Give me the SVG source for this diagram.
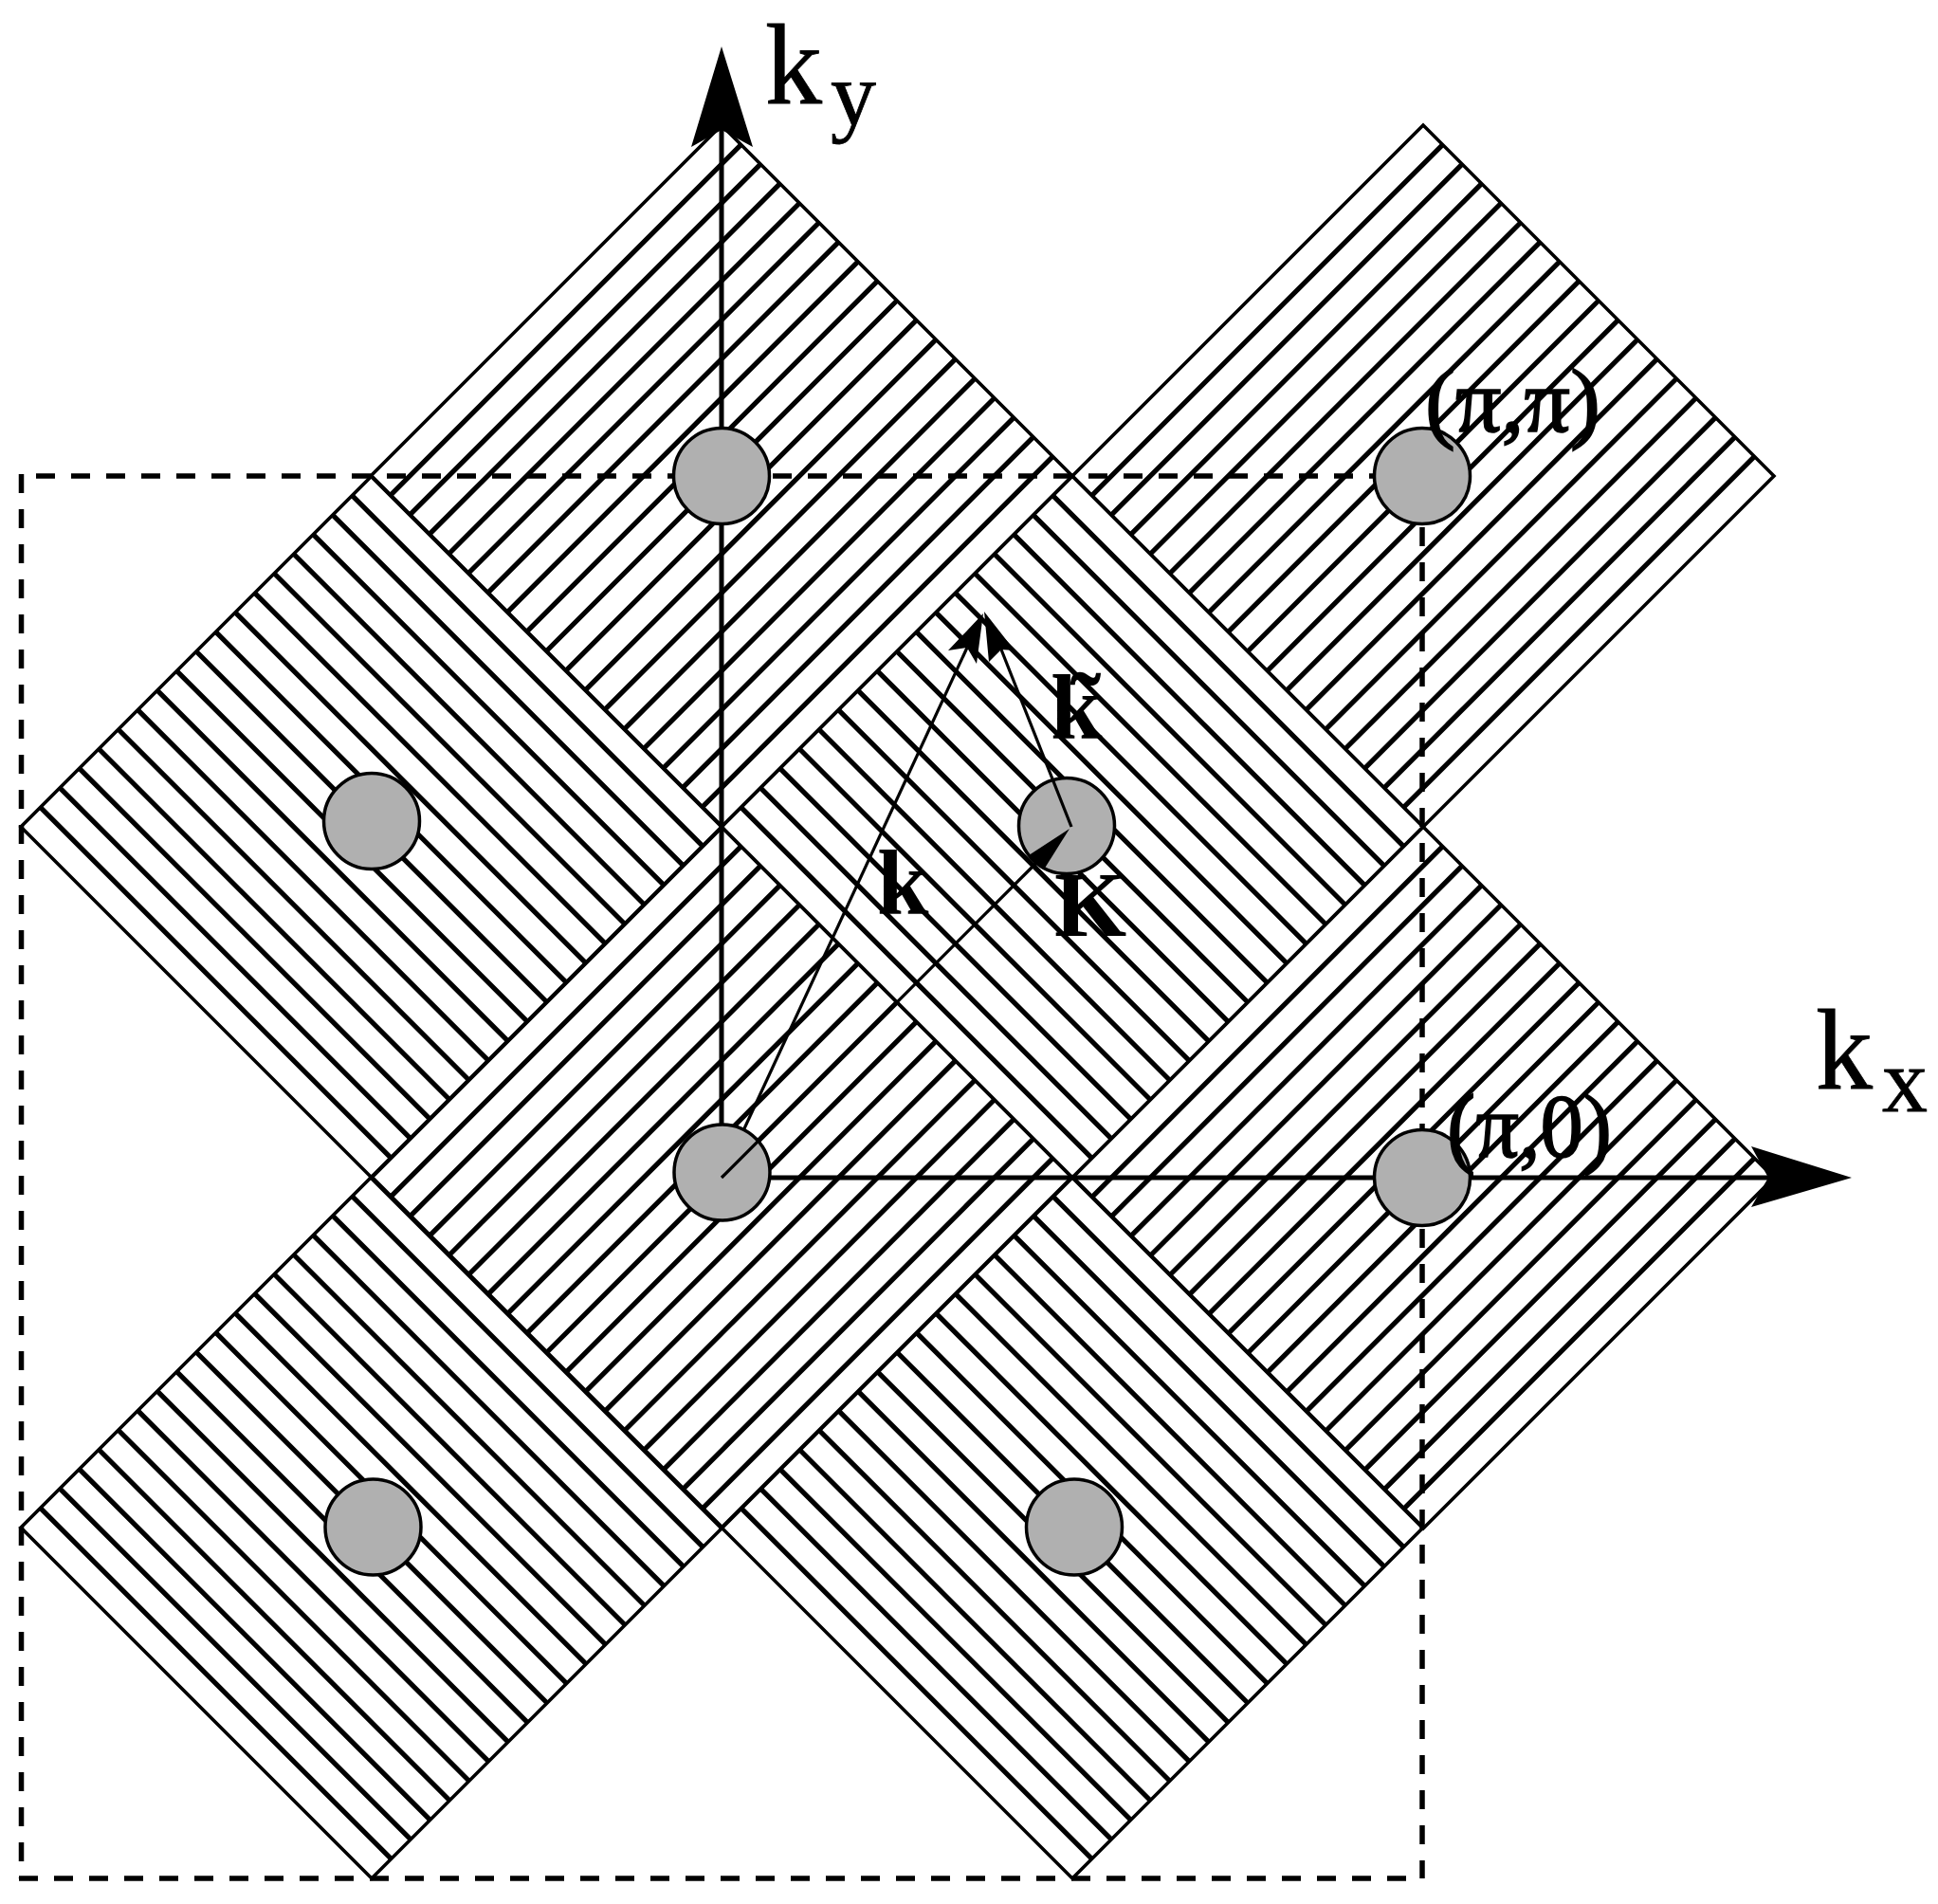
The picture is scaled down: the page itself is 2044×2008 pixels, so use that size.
<svg xmlns="http://www.w3.org/2000/svg" xmlns:xlink="http://www.w3.org/1999/xlink" width="2044" height="2008" viewBox="0 0 2044 2008">
<style>
.edge{fill:none;stroke:#000;stroke-width:3.6}
.hatch{fill:none;stroke:#000;stroke-width:5.2}
.dash{fill:none;stroke:#000;stroke-width:5.5;stroke-dasharray:20 17}
.dot{fill:#b0b0b0;stroke:#000;stroke-width:3.5}
.axis{fill:none;stroke:#000;stroke-width:5}
.vec{fill:none;stroke:#000;stroke-width:3.2}
.head{fill:#000;stroke:none}
text{font-family:"Liberation Serif","Times New Roman",serif;fill:#000}
.bold{font-weight:bold;font-size:98px}
.big{font-size:120px;stroke:#000;stroke-width:.8}
.sub{font-size:96px;stroke:#000;stroke-width:.8}
.pt{font-size:96px;stroke:#000;stroke-width:1.6}
</style>
<defs>
<g id="tile">
<path class="edge" d="M0 -370L370 0L0 370L-370 0Z"/>
<path class="hatch" d="M20.56 -349.44l-370 370M41.11 -328.89l-370 370M61.67 -308.33l-370 370M82.22 -287.78l-370 370M102.78 -267.22l-370 370M123.33 -246.67l-370 370M143.89 -226.11l-370 370M164.44 -205.56l-370 370M185 -185l-370 370M205.56 -164.44l-370 370M226.11 -143.89l-370 370M246.67 -123.33l-370 370M267.22 -102.78l-370 370M287.78 -82.22l-370 370M308.33 -61.67l-370 370M328.89 -41.11l-370 370M349.44 -20.56l-370 370"/>
</g>
</defs>
<rect width="2044" height="2008" fill="#fff"/>
<g id="tiles">
<use id="tile-top" xlink:href="#tile" transform="translate(761 502)"/>
<use id="tile-top-right" xlink:href="#tile" transform="translate(1501 502)"/>
<use id="tile-left" xlink:href="#tile" transform="translate(392 872) rotate(90)"/>
<use id="tile-centre" xlink:href="#tile" transform="translate(1131 872) rotate(90)"/>
<use id="tile-lower" xlink:href="#tile" transform="translate(761 1242)"/>
<use id="tile-right" xlink:href="#tile" transform="translate(1501 1242)"/>
<use id="tile-bottom-left" xlink:href="#tile" transform="translate(392 1611) rotate(90)"/>
<use id="tile-bottom-right" xlink:href="#tile" transform="translate(1131 1611) rotate(90)"/>
</g>
<g id="zone-boundary">
<line class="dash" x1="38" y1="502" x2="1500" y2="502"/>
<line class="dash" x1="22.5" y1="500" x2="22.5" y2="1981"/>
<line class="dash" x1="20" y1="1981" x2="1500" y2="1981"/>
<line class="dash" x1="1500" y1="519" x2="1500" y2="1981"/>
</g>
<g id="connectors-under">
<line class="axis" x1="761" y1="1242" x2="761" y2="130"/>
<path class="head" d="M761 49L794 155L761 137L729 155Z"/>
<line class="axis" x1="761" y1="1242" x2="1870" y2="1242"/>
<path class="head" d="M1953 1242L1847 1273L1865 1242L1847 1209Z"/>
<line class="vec" x1="761" y1="1242" x2="1020" y2="683"/>
<path class="head" d="M1037 647L1030 700L1020 683L1000 686Z"/>
</g>
<g id="node-1"><circle class="dot" cx="761" cy="502" r="50.5"/></g>
<g id="node-2"><circle class="dot" cx="1500" cy="502" r="50.5"/></g>
<g id="node-3"><circle class="dot" cx="392" cy="866" r="50.5"/></g>
<g id="node-4"><circle class="dot" cx="1125" cy="871" r="50.5"/></g>
<g id="node-5"><circle class="dot" cx="761.5" cy="1236.5" r="50.5"/></g>
<g id="node-6"><circle class="dot" cx="1500" cy="1242" r="50.5"/></g>
<g id="node-7"><circle class="dot" cx="393.5" cy="1610.5" r="50.5"/></g>
<g id="node-8"><circle class="dot" cx="1133" cy="1610.5" r="50.5"/></g>
<g id="connectors-over">
<line class="vec" x1="761" y1="1242" x2="1100" y2="903"/>
<path class="head" d="M1128 874L1101 917L1093 910L1085 902Z"/>
<line class="vec" x1="1130" y1="872" x2="1056" y2="685"/>
<path class="head" d="M1038 645L1070 686L1056 685L1043 698Z"/>
</g>
<g id="labels">
<text class="big" x="807" y="109">k</text>
<text class="sub" x="876" y="132">y</text>
<text class="big" x="1915" y="1148">k</text>
<text class="sub" x="1985" y="1172">x</text>
<text class="pt" x="1503" y="455">(π,π)</text>
<text class="pt" x="1526" y="1220" textLength="174" lengthAdjust="spacingAndGlyphs">(π,0)</text>
<text class="bold" x="925" y="964">k</text>
<text class="bold" x="1108" y="779">k<tspan dx="-34" dy="-3">˜</tspan></text>
<text class="bold" x="1112" y="987">K</text>
</g>
</svg>
